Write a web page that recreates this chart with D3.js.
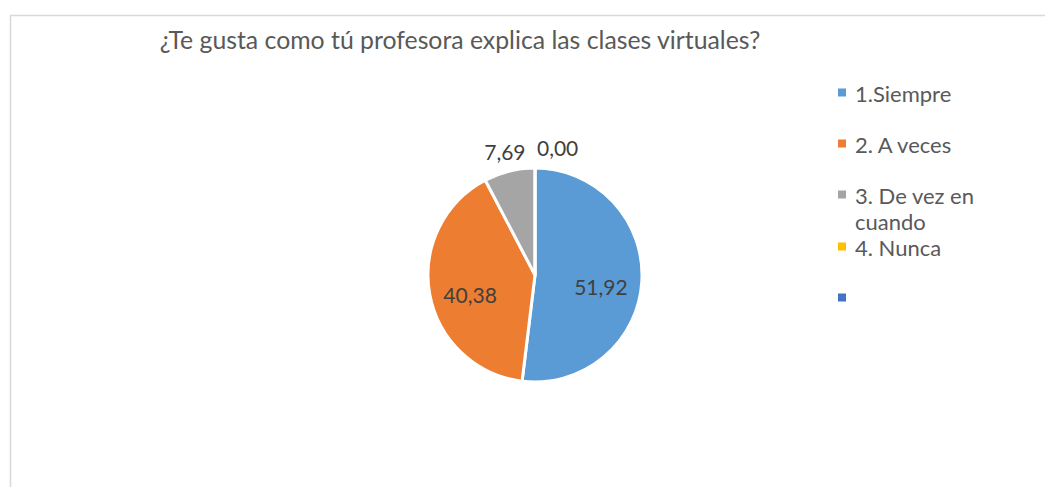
<!DOCTYPE html>
<html><head><meta charset="utf-8">
<script src="https://cdn.jsdelivr.net/npm/d3@7"></script>
<style>body{margin:0;background:#fff}svg{display:block}text{font-family:Lato,"Open Sans",sans-serif}</style>
</head><body>
<svg id="c" width="1045" height="487"></svg>
<script>
const title = "¿Te gusta como tú profesora explica las clases virtuales?";
const categories = ["1.Siempre", "2. A veces", "3. De vez en cuando", "4. Nunca", ""];
const values = [51.92, 40.38, 7.69, 0.00, null];
const colors = ["#5b9bd5", "#ed7d31", "#a5a5a5", "#ffc000", "#4472c4"];

const svg = d3.select("#c");
svg.append("path").attr("d", "M10.5,487 L10.5,15.5 L1045,15.5")
  .attr("fill", "none").attr("stroke", "#d9d9d9").attr("stroke-width", 1.5);

svg.append("text").attr("x", 460).attr("y", 49).attr("text-anchor", "middle")
  .attr("fill", "#595959").style("font-size", "24.8px").text(title);

const cx = 535, cy = 275, R = 107;
const data = categories.map((c, i) => ({c, v: values[i], color: colors[i]})).filter(d => d.v !== null);
const pie = d3.pie().value(d => d.v).sort(null);
const arcs = pie(data);
const arc = d3.arc().innerRadius(0).outerRadius(R);
const g = svg.append("g").attr("transform", `translate(${cx},${cy})`);
g.selectAll("path.s").data(arcs).join("path").attr("class", "s")
  .attr("d", arc).attr("fill", d => d.data.color)
  .attr("stroke", "#fff").attr("stroke-width", 3).attr("stroke-linejoin", "round");

const inArc = d3.arc().innerRadius(66).outerRadius(66);
const outArc = d3.arc().innerRadius(126).outerRadius(126);
const fmt = v => v.toFixed(2).replace(".", ",");
arcs.forEach(a => {
  const inside = a.data.v > 15;
  const [x, y] = inside ? inArc.centroid(a) : outArc.centroid(a);
  let anchor = "middle", dx = 0, dy = inside ? 9 : 0;
  if (!inside && Math.abs(x) < 3) { anchor = "start"; dx = 2; }
  g.append("text").attr("x", x + dx).attr("y", y + dy).attr("dy", "0.35em")
    .attr("text-anchor", anchor).attr("fill", "#404040").style("font-size", "21px")
    .text(fmt(a.data.v));
});

// legend
const lg = svg.append("g");
const lineH = 26, itemGap = 51;
let base = 102;
const wraps = {"3. De vez en cuando": ["3. De vez en", "cuando"]};
categories.forEach((c, i) => {
  const lines = wraps[c] || [c];
  lg.append("rect").attr("x", 838).attr("y", base - 13.5).attr("width", 8).attr("height", 8)
    .attr("fill", colors[i]);
  lines.forEach((t, k) => {
    lg.append("text").attr("x", 855).attr("y", base + k * lineH)
      .attr("fill", "#595959").style("font-size", "22px").text(t);
  });
  base += itemGap + (lines.length > 1 ? 1 : 0);
});
</script>
</body></html>
